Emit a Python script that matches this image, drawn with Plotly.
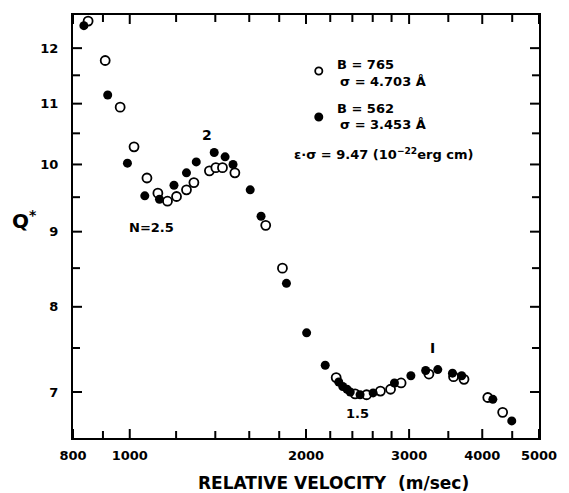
import numpy as np
import plotly.graph_objects as go

# Open circles: B = 765, sigma = 4.703 A
open_v = [849, 908, 963, 1017, 1070, 1117, 1160, 1202, 1250, 1287, 1368, 1403, 1440, 1512,
          1707, 1823, 2252, 2426, 2538, 2680, 2789, 2907, 3243, 3573, 3723, 4088, 4334]
open_q = [12.52, 11.77, 10.94, 10.28, 9.79, 9.56, 9.44, 9.51, 9.61, 9.72, 9.90, 9.95, 9.95, 9.87,
          9.09, 8.50, 7.16, 6.98, 6.97, 7.01, 7.03, 7.10, 7.20, 7.17, 7.14, 6.94, 6.78]

# Filled circles: B = 562, sigma = 3.453 A
filled_v = [835, 917, 991, 1061, 1124, 1190, 1250, 1299, 1394, 1455, 1501, 1606, 1676, 1852,
            2005, 2157, 2275, 2311, 2350, 2380, 2474, 2604, 2832, 3021, 3202, 3358, 3558, 3689,
            4170, 4492]
filled_q = [12.43, 11.15, 10.02, 9.52, 9.47, 9.68, 9.87, 10.04, 10.19, 10.12, 10.00, 9.61, 9.22, 8.30,
            7.68, 7.30, 7.11, 7.06, 7.03, 7.00, 6.97, 6.99, 7.10, 7.18, 7.24, 7.25, 7.21, 7.18,
            6.92, 6.69]

x_major = [800, 1000, 2000, 3000, 4000, 5000]
x_minor = [900, 1200, 1400, 1600, 1800, 2200, 2400, 2600, 2800, 3500, 4500]
y_major = [7, 8, 9, 10, 11, 12]
y_minor = [7.5, 8.5, 9.5, 10.5, 11.5]

X_RANGE = [800, 5000]
Y_RANGE = [6.513, 12.64]

FONT = "DejaVu Sans"

x_ticks = sorted(x_major + x_minor)
x_text = ["<b>%d</b>" % v if v in x_major else "" for v in x_ticks]
y_ticks = sorted(y_major + y_minor)
y_text = ["<b>%g</b>" % v if v in y_major else "" for v in y_ticks]

fig = go.Figure()
fig.add_trace(go.Scatter(x=open_v, y=open_q, mode="markers", showlegend=False,
                         marker=dict(symbol="circle", size=9, color="white",
                                     line=dict(color="black", width=1.8))))
fig.add_trace(go.Scatter(x=filled_v, y=filled_q, mode="markers", showlegend=False,
                         marker=dict(symbol="circle", size=9, color="black",
                                     line=dict(color="black", width=0))))

axis_common = dict(showgrid=False, zeroline=False, showline=True, linecolor="black",
                   linewidth=2, mirror=True, ticks="", tickmode="array",
                   tickfont=dict(family=FONT, size=13, color="black"))

fig.update_xaxes(type="log", range=[np.log10(X_RANGE[0]), np.log10(X_RANGE[1])],
                 tickvals=x_ticks, ticktext=x_text, ticklabelstandoff=4, **axis_common)
fig.update_yaxes(type="log", range=[np.log10(Y_RANGE[0]), np.log10(Y_RANGE[1])],
                 tickvals=y_ticks, ticktext=y_text, ticklabelstandoff=10, **axis_common)

# Inward tick marks on all four sides, placed by the log scale of each axis
def frac(v, rng):
    lo, hi = np.log10(rng[0]), np.log10(rng[1])
    return (np.log10(v) - lo) / (hi - lo)

shapes = []
tick_line = dict(color="black", width=2)
for vals, ln in [(x_major, 9), (x_minor, 7)]:
    for v in vals:
        f = float(frac(v, X_RANGE))
        for anchor, sgn in [(0, 1), (1, -1)]:
            shapes.append(dict(type="line", xref="x domain", yref="y domain",
                               ysizemode="pixel", yanchor=anchor, x0=f, x1=f,
                               y0=0, y1=sgn * ln, line=tick_line, layer="above"))
for vals, ln in [(y_major, 9), (y_minor, 7)]:
    for v in vals:
        f = float(frac(v, Y_RANGE))
        for anchor, sgn in [(0, 1), (1, -1)]:
            shapes.append(dict(type="line", xref="x domain", yref="y domain",
                               xsizemode="pixel", xanchor=anchor, y0=f, y1=f,
                               x0=0, x1=sgn * ln, line=tick_line, layer="above"))

def px2paper(px, py):
    return (px - 73) / 474.0, (438 - py) / 423.0

annots = []
def txt(px, py, s, size=13, xanchor="center"):
    xp, yp = px2paper(px, py)
    annots.append(dict(x=xp, y=yp, xref="paper", yref="paper", text="<b>" + s + "</b>",
                       showarrow=False, xanchor=xanchor, yanchor="middle",
                       font=dict(family=FONT, size=size, color="black")))

txt(209, 135, "2", 14)
txt(153, 227, "N=2.5", 13)
txt(362, 413, "1.5", 13)
txt(439, 348, "I", 14)
txt(340, 65, "B = 765", 13, "left")
txt(343, 81, "σ = 4.703 Å", 13, "left")
txt(340, 108, "B = 562", 13, "left")
txt(343, 124, "σ = 3.453 Å", 13, "left")
txt(296, 154, "ε·σ = 9.47 (10<sup>−22</sup>erg cm)", 13, "left")
txt(338, 483, "RELATIVE VELOCITY  (m/sec)", 17)
txt(24, 220, "Q<sup>*</sup>", 20)

for (px, py, fill) in [(323, 71, "white"), (323, 117, "black")]:
    xp, yp = px2paper(px, py)
    shapes.append(dict(type="circle", xref="paper", yref="paper", xsizemode="pixel",
                       ysizemode="pixel", xanchor=xp, yanchor=yp, x0=-3.6, x1=3.6,
                       y0=-3.6, y1=3.6, fillcolor=fill, line=dict(color="black", width=1.8)))

fig.update_layout(width=569, height=493, margin=dict(l=73, r=22, t=15, b=55),
                  paper_bgcolor="white", plot_bgcolor="white",
                  annotations=annots, shapes=shapes, showlegend=False)

fig.write_html("out.html")
